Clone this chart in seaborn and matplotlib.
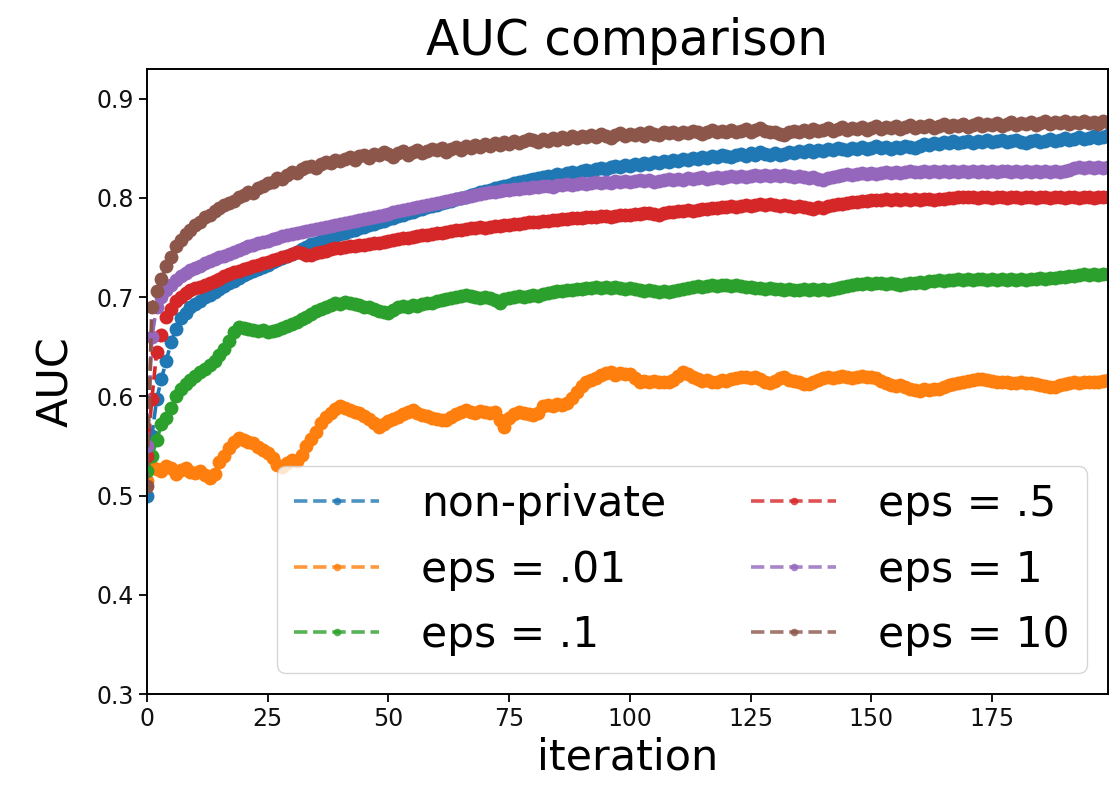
import numpy as np
import pandas as pd
import matplotlib
matplotlib.use("Agg")
import matplotlib.pyplot as plt
import seaborn as sns

iterations = list(range(200))

non_private = [
    0.500, 0.560, 0.597, 0.618, 0.636, 0.655, 0.668, 0.679, 0.684, 0.690,
    0.693, 0.696, 0.700, 0.702, 0.705, 0.708, 0.711, 0.714, 0.716, 0.719,
    0.722, 0.724, 0.726, 0.728, 0.730, 0.732, 0.735, 0.737, 0.739, 0.742,
    0.744, 0.746, 0.749, 0.751, 0.754, 0.755, 0.757, 0.759, 0.760, 0.762,
    0.764, 0.765, 0.767, 0.768, 0.770, 0.771, 0.773, 0.774, 0.776, 0.777,
    0.779, 0.780, 0.782, 0.783, 0.785, 0.786, 0.788, 0.789, 0.791, 0.792,
    0.793, 0.795, 0.796, 0.797, 0.799, 0.800, 0.801, 0.803, 0.804, 0.806,
    0.807, 0.808, 0.810, 0.811, 0.812, 0.813, 0.815, 0.816, 0.817, 0.818,
    0.819, 0.820, 0.821, 0.822, 0.822, 0.824, 0.823, 0.825, 0.826, 0.825,
    0.827, 0.828, 0.827, 0.829, 0.830, 0.829, 0.831, 0.832, 0.831, 0.833,
    0.832, 0.834, 0.833, 0.835, 0.834, 0.836, 0.835, 0.837, 0.836, 0.838,
    0.837, 0.839, 0.838, 0.840, 0.839, 0.841, 0.840, 0.842, 0.841, 0.843,
    0.842, 0.841, 0.843, 0.844, 0.842, 0.845, 0.843, 0.846, 0.844, 0.843,
    0.845, 0.843, 0.844, 0.846, 0.845, 0.847, 0.846, 0.848, 0.846, 0.848,
    0.847, 0.849, 0.848, 0.850, 0.849, 0.848, 0.850, 0.849, 0.851, 0.849,
    0.850, 0.852, 0.850, 0.851, 0.849, 0.851, 0.850, 0.852, 0.851, 0.850,
    0.852, 0.854, 0.853, 0.855, 0.854, 0.856, 0.855, 0.857, 0.855, 0.856,
    0.857, 0.855, 0.857, 0.856, 0.858, 0.856, 0.857, 0.858, 0.856, 0.857,
    0.858, 0.856, 0.855, 0.857, 0.858, 0.856, 0.857, 0.859, 0.857, 0.858,
    0.860, 0.858, 0.859, 0.861, 0.859, 0.860, 0.862, 0.860, 0.861, 0.863,
]

eps_001 = [
    0.515, 0.529, 0.527, 0.525, 0.530, 0.528, 0.522, 0.526, 0.528, 0.524,
    0.523, 0.525, 0.521, 0.518, 0.522, 0.534, 0.540, 0.548, 0.554, 0.558,
    0.556, 0.554, 0.553, 0.549, 0.546, 0.543, 0.538, 0.531, 0.529, 0.533,
    0.536, 0.535, 0.541, 0.550, 0.557, 0.564, 0.573, 0.579, 0.583, 0.587,
    0.590, 0.588, 0.586, 0.584, 0.583, 0.580, 0.577, 0.573, 0.569, 0.572,
    0.575, 0.577, 0.579, 0.582, 0.584, 0.586, 0.583, 0.581, 0.580, 0.578,
    0.577, 0.576, 0.576, 0.579, 0.582, 0.584, 0.586, 0.584, 0.583, 0.585,
    0.584, 0.583, 0.584, 0.576, 0.569, 0.578, 0.582, 0.584, 0.583, 0.582,
    0.581, 0.583, 0.590, 0.591, 0.590, 0.592, 0.591, 0.593, 0.598, 0.604,
    0.610, 0.614, 0.617, 0.619, 0.622, 0.624, 0.625, 0.622, 0.624, 0.623,
    0.623, 0.619, 0.615, 0.616, 0.615, 0.616, 0.615, 0.614, 0.615, 0.617,
    0.621, 0.625, 0.623, 0.620, 0.618, 0.616, 0.617, 0.615, 0.615, 0.617,
    0.616, 0.618, 0.619, 0.620, 0.620, 0.619, 0.620, 0.618, 0.614, 0.613,
    0.616, 0.619, 0.620, 0.617, 0.616, 0.614, 0.612, 0.612, 0.614, 0.617,
    0.619, 0.620, 0.619, 0.620, 0.621, 0.620, 0.619, 0.620, 0.621, 0.620,
    0.620, 0.619, 0.616, 0.613, 0.611, 0.610, 0.611, 0.609, 0.607, 0.606,
    0.605, 0.607, 0.606, 0.607, 0.607, 0.609, 0.611, 0.612, 0.613, 0.615,
    0.616, 0.617, 0.618, 0.618, 0.617, 0.616, 0.615, 0.614, 0.614, 0.613,
    0.613, 0.614, 0.613, 0.613, 0.612, 0.611, 0.610, 0.609, 0.609, 0.611,
    0.612, 0.613, 0.614, 0.613, 0.614, 0.615, 0.614, 0.615, 0.616, 0.617,
]

eps_01 = [
    0.525, 0.540, 0.556, 0.572, 0.578, 0.588, 0.600, 0.607, 0.612, 0.617,
    0.621, 0.625, 0.628, 0.632, 0.636, 0.642, 0.648, 0.656, 0.665, 0.670,
    0.669, 0.668, 0.667, 0.666, 0.667, 0.665, 0.666, 0.667, 0.669, 0.671,
    0.673, 0.675, 0.678, 0.680, 0.683, 0.686, 0.688, 0.690, 0.692, 0.694,
    0.693, 0.695, 0.694, 0.693, 0.692, 0.690, 0.690, 0.688, 0.686, 0.685,
    0.684, 0.687, 0.690, 0.691, 0.690, 0.692, 0.691, 0.693, 0.694, 0.694,
    0.696, 0.697, 0.698, 0.699, 0.700, 0.701, 0.702, 0.701, 0.700, 0.699,
    0.700, 0.699, 0.697, 0.694, 0.698, 0.699, 0.700, 0.701, 0.700, 0.701,
    0.702, 0.701, 0.703, 0.704, 0.705, 0.706, 0.706, 0.707, 0.707, 0.708,
    0.708, 0.709, 0.709, 0.710, 0.709, 0.710, 0.709, 0.710, 0.709, 0.708,
    0.709, 0.708, 0.707, 0.706, 0.707, 0.706, 0.705, 0.706, 0.705, 0.706,
    0.707, 0.708, 0.709, 0.710, 0.711, 0.710, 0.711, 0.712, 0.711, 0.712,
    0.712, 0.711, 0.712, 0.711, 0.710, 0.710, 0.709, 0.709, 0.708, 0.709,
    0.708, 0.708, 0.707, 0.708, 0.707, 0.707, 0.708, 0.707, 0.708, 0.707,
    0.708, 0.707, 0.708, 0.709, 0.710, 0.711, 0.712, 0.713, 0.713, 0.714,
    0.713, 0.714, 0.714, 0.713, 0.714, 0.713, 0.712, 0.713, 0.714, 0.714,
    0.715, 0.714, 0.716, 0.716, 0.717, 0.716, 0.717, 0.717, 0.718, 0.717,
    0.718, 0.717, 0.718, 0.718, 0.717, 0.718, 0.717, 0.718, 0.717, 0.718,
    0.717, 0.718, 0.717, 0.718, 0.718, 0.719, 0.718, 0.719, 0.719, 0.720,
    0.720, 0.721, 0.721, 0.722, 0.723, 0.722, 0.723, 0.722, 0.723, 0.723,
]

eps_05 = [
    0.540, 0.597, 0.645, 0.662, 0.680, 0.688, 0.696, 0.700, 0.704, 0.707,
    0.709, 0.710, 0.712, 0.714, 0.716, 0.718, 0.721, 0.723, 0.725, 0.726,
    0.728, 0.729, 0.731, 0.732, 0.734, 0.735, 0.737, 0.738, 0.740, 0.742,
    0.744, 0.746, 0.745, 0.743, 0.743, 0.745, 0.746, 0.747, 0.749, 0.750,
    0.750, 0.751, 0.752, 0.752, 0.753, 0.753, 0.754, 0.755, 0.755, 0.756,
    0.757, 0.758, 0.759, 0.760, 0.760, 0.761, 0.762, 0.763, 0.763, 0.764,
    0.765, 0.765, 0.766, 0.767, 0.768, 0.768, 0.769, 0.770, 0.770, 0.771,
    0.770, 0.771, 0.772, 0.772, 0.773, 0.773, 0.774, 0.774, 0.775, 0.776,
    0.776, 0.776, 0.777, 0.777, 0.778, 0.778, 0.779, 0.779, 0.780, 0.780,
    0.780, 0.781, 0.781, 0.781, 0.782, 0.782, 0.781, 0.782, 0.783, 0.783,
    0.783, 0.784, 0.784, 0.785, 0.785, 0.784, 0.783, 0.785, 0.786, 0.786,
    0.787, 0.787, 0.788, 0.787, 0.788, 0.789, 0.789, 0.790, 0.790, 0.791,
    0.791, 0.792, 0.791, 0.792, 0.793, 0.792, 0.793, 0.794, 0.793, 0.794,
    0.793, 0.792, 0.793, 0.792, 0.791, 0.792, 0.791, 0.790, 0.789, 0.791,
    0.790, 0.792, 0.793, 0.794, 0.794, 0.795, 0.796, 0.796, 0.797, 0.797,
    0.798, 0.798, 0.798, 0.799, 0.798, 0.799, 0.798, 0.799, 0.798, 0.799,
    0.798, 0.799, 0.799, 0.798, 0.799, 0.799, 0.800, 0.800, 0.801, 0.801,
    0.801, 0.801, 0.800, 0.801, 0.801, 0.800, 0.801, 0.801, 0.800, 0.801,
    0.801, 0.800, 0.801, 0.801, 0.800, 0.801, 0.801, 0.800, 0.801, 0.801,
    0.800, 0.801, 0.801, 0.800, 0.801, 0.801, 0.800, 0.801, 0.801, 0.801,
]

eps_1 = [
    0.550, 0.660, 0.690, 0.700, 0.707, 0.712, 0.717, 0.721, 0.724, 0.727,
    0.729, 0.731, 0.734, 0.736, 0.738, 0.740, 0.742, 0.744, 0.746, 0.748,
    0.750, 0.752, 0.753, 0.755, 0.756, 0.757, 0.759, 0.760, 0.762, 0.763,
    0.764, 0.765, 0.766, 0.767, 0.768, 0.769, 0.770, 0.771, 0.772, 0.773,
    0.774, 0.775, 0.776, 0.777, 0.778, 0.779, 0.780, 0.781, 0.782, 0.783,
    0.784, 0.786, 0.787, 0.788, 0.789, 0.790, 0.791, 0.792, 0.793, 0.794,
    0.795, 0.796, 0.797, 0.798, 0.799, 0.800, 0.801, 0.802, 0.803, 0.804,
    0.805, 0.806, 0.806, 0.807, 0.808, 0.808, 0.809, 0.809, 0.810, 0.810,
    0.811, 0.811, 0.812, 0.812, 0.811, 0.813, 0.813, 0.814, 0.813, 0.814,
    0.815, 0.814, 0.815, 0.816, 0.815, 0.816, 0.815, 0.817, 0.816, 0.817,
    0.816, 0.817, 0.818, 0.817, 0.818, 0.816, 0.817, 0.818, 0.819, 0.818,
    0.819, 0.818, 0.820, 0.819, 0.820, 0.821, 0.819, 0.820, 0.821, 0.820,
    0.821, 0.822, 0.821, 0.822, 0.821, 0.822, 0.823, 0.822, 0.823, 0.822,
    0.823, 0.822, 0.823, 0.822, 0.821, 0.822, 0.821, 0.820, 0.821, 0.819,
    0.818, 0.820, 0.821, 0.822, 0.823, 0.824, 0.823, 0.824, 0.825, 0.824,
    0.825, 0.824, 0.825, 0.826, 0.825, 0.826, 0.825, 0.826, 0.827, 0.826,
    0.826, 0.827, 0.826, 0.827, 0.826, 0.827, 0.826, 0.827, 0.826, 0.827,
    0.826, 0.827, 0.826, 0.827, 0.826, 0.827, 0.826, 0.827, 0.827, 0.826,
    0.827, 0.826, 0.827, 0.826, 0.827, 0.826, 0.827, 0.826, 0.827, 0.826,
    0.827, 0.828, 0.830, 0.831, 0.830, 0.831, 0.830, 0.831, 0.830, 0.831,
]

eps_10 = [
    0.510, 0.690, 0.706, 0.718, 0.731, 0.741, 0.752, 0.758, 0.764, 0.768,
    0.773, 0.776, 0.781, 0.783, 0.787, 0.790, 0.793, 0.795, 0.797, 0.801,
    0.803, 0.806, 0.805, 0.810, 0.812, 0.815, 0.816, 0.820, 0.819, 0.823,
    0.826, 0.825, 0.829, 0.831, 0.832, 0.830, 0.834, 0.836, 0.835, 0.838,
    0.837, 0.839, 0.841, 0.838, 0.842, 0.843, 0.840, 0.844, 0.843, 0.846,
    0.844, 0.841, 0.845, 0.847, 0.843, 0.846, 0.848, 0.845, 0.847, 0.849,
    0.848, 0.850, 0.846, 0.849, 0.851, 0.848, 0.852, 0.850, 0.853, 0.851,
    0.854, 0.852, 0.855, 0.853, 0.856, 0.854, 0.857, 0.855, 0.857, 0.859,
    0.858, 0.856, 0.859, 0.857, 0.860, 0.858, 0.861, 0.859, 0.862, 0.860,
    0.862, 0.861, 0.863, 0.861, 0.864, 0.862, 0.860, 0.863, 0.865, 0.862,
    0.864, 0.863, 0.865, 0.862, 0.866, 0.864, 0.863, 0.867, 0.865, 0.866,
    0.864, 0.867, 0.865, 0.868, 0.866, 0.864, 0.867, 0.869, 0.866, 0.868,
    0.867, 0.869, 0.866, 0.868, 0.870, 0.867, 0.869, 0.871, 0.868, 0.866,
    0.867, 0.864, 0.863, 0.866, 0.868, 0.866, 0.869, 0.867, 0.870, 0.868,
    0.869, 0.871, 0.868, 0.870, 0.872, 0.869, 0.871, 0.870, 0.872, 0.869,
    0.871, 0.873, 0.870, 0.872, 0.871, 0.873, 0.870, 0.872, 0.874, 0.871,
    0.873, 0.872, 0.874, 0.871, 0.873, 0.875, 0.872, 0.874, 0.873, 0.875,
    0.872, 0.874, 0.876, 0.873, 0.875, 0.874, 0.876, 0.873, 0.875, 0.877,
    0.874, 0.876, 0.875, 0.877, 0.874, 0.876, 0.878, 0.875, 0.877, 0.876,
    0.878, 0.875, 0.877, 0.876, 0.878, 0.876, 0.877, 0.875, 0.878, 0.877,
]

series_labels = ["non-private", "eps = .01", "eps = .1", "eps = .5", "eps = 1", "eps = 10"]
series_values = [non_private, eps_001, eps_01, eps_05, eps_1, eps_10]
colors = ["#1f77b4", "#ff7f0e", "#2ca02c", "#d62728", "#9467bd", "#8c564b"]

x_ticks = [0, 25, 50, 75, 100, 125, 150, 175]
y_ticks = [0.3, 0.4, 0.5, 0.6, 0.7, 0.8, 0.9]

sns.set_style("ticks")
plt.rcParams["font.family"] = ["DejaVu Sans"]
plt.rcParams["text.color"] = "black"
plt.rcParams["axes.labelcolor"] = "black"

fig = plt.figure(figsize=(11.11, 7.91), dpi=100)
ax = fig.add_axes([147 / 1111, 1 - 694 / 791, (1108 - 147) / 1111, (694 - 69) / 791])

for label, vals, col in zip(series_labels, series_values, colors):
    df = pd.DataFrame({"iteration": iterations, "AUC": vals})
    sns.lineplot(data=df, x="iteration", y="AUC", ax=ax, color=col, label=label,
                 linestyle="--", linewidth=2.6, marker=".", markersize=20,
                 markeredgecolor=col, markeredgewidth=0, errorbar=None)

ax.set_xlim(0, 199)
ax.set_ylim(0.3, 0.93)
ax.set_xticks(x_ticks)
ax.set_yticks(y_ticks)
ax.set_yticklabels([f"{v:.1f}" for v in y_ticks])
ax.tick_params(axis="both", labelsize=17, length=6, width=1.3, color="black", labelcolor="#111111")
for sp in ax.spines.values():
    sp.set_visible(True)
    sp.set_color("black")
    sp.set_linewidth(1.4)

ax.set_title("AUC comparison", fontsize=35, pad=10, color="black")
ax.set_xlabel("iteration", fontsize=31, labelpad=4, color="black")
ax.set_ylabel("AUC", fontsize=31, labelpad=14, color="black")

leg = ax.legend(loc="lower right", ncol=2, fontsize=30.5, frameon=True, fancybox=True,
                framealpha=0.8, edgecolor="#cccccc", borderaxespad=0.5,
                handlelength=2.0, handletextpad=1.0, columnspacing=2.0, labelspacing=0.55,
                markerscale=0.55)
for h in leg.legend_handles:
    h.set_alpha(0.8)
for t in leg.get_texts():
    t.set_color("black")

fig.savefig("out.png", dpi=100, facecolor="white")
